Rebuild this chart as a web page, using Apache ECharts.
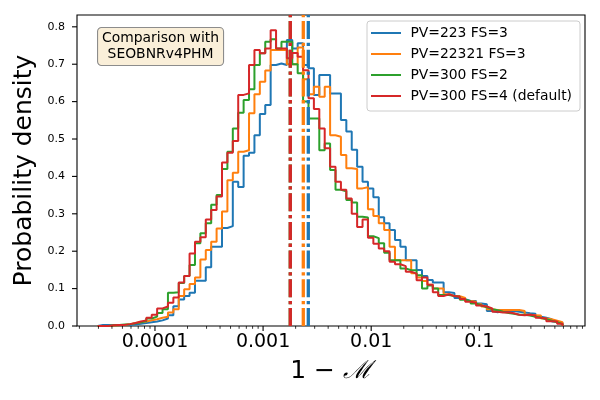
<!DOCTYPE html>
<html>
<head>
<meta charset="utf-8">
<script src="https://cdn.jsdelivr.net/npm/echarts@6/dist/echarts.min.js"></script>
<style>
html, body { margin: 0; background: #fff; }
#chart { width: 600px; height: 400px; }
</style>
</head>
<body>
<div id="chart"></div>
<script>
// series names / colours (matplotlib tab10)
var names = ['PV=223 FS=3', 'PV=22321 FS=3', 'PV=300 FS=2', 'PV=300 FS=4 (default)'];
var colors = ['#1f77b4', '#ff7f0e', '#2ca02c', '#d62728'];

// histogram bins are uniform in log10(1-M): edge k = binStart + k*binWidth
var binStart = -4.53;
var binWidth = 0.05;

// probability density per bin
var pv223 = [0.003, 0.003, 0.002, 0.002, 0.003, 0.003, 0.004, 0.006, 0.008, 0.01,
    0.012, 0.015, 0.02, 0.029, 0.053, 0.071, 0.08, 0.089, 0.121, 0.121,
    0.157, 0.212, 0.212, 0.262, 0.267, 0.386, 0.372, 0.455, 0.463, 0.51,
    0.567, 0.591, 0.698, 0.702, 0.698, 0.765, 0.742, 0.756, 0.698, 0.689,
    0.618, 0.671, 0.671, 0.622, 0.622, 0.551, 0.52, 0.471, 0.426, 0.386,
    0.368, 0.344, 0.291, 0.275, 0.257, 0.23, 0.212, 0.176, 0.176, 0.15,
    0.134, 0.123, 0.116, 0.116, 0.09, 0.088, 0.075, 0.072, 0.067, 0.067,
    0.06, 0.058, 0.04, 0.037, 0.04, 0.04, 0.04, 0.038, 0.036, 0.034,
    0.033, 0.025, 0.022, 0.018, 0.012, 0.008];
var pv22321 = [0, 0, 0.001, 0.002, 0.003, 0.005, 0.008, 0.01, 0.012, 0.015,
    0.018, 0.022, 0.025, 0.036, 0.045, 0.08, 0.098, 0.112, 0.13, 0.178,
    0.203, 0.225, 0.261, 0.306, 0.39, 0.41, 0.466, 0.47, 0.569, 0.62,
    0.653, 0.683, 0.738, 0.738, 0.738, 0.70, 0.70, 0.745, 0.66, 0.62,
    0.64, 0.613, 0.64, 0.51, 0.506, 0.457, 0.422, 0.42, 0.368, 0.371,
    0.312, 0.294, 0.275, 0.257, 0.212, 0.176, 0.176, 0.176, 0.141, 0.13,
    0.12, 0.11, 0.1, 0.1, 0.085, 0.08, 0.08, 0.075, 0.067, 0.065,
    0.058, 0.052, 0.045, 0.043, 0.043, 0.043, 0.043, 0.043, 0.04, 0.03,
    0.029, 0.028, 0.02, 0.018, 0.014, 0.01];
var fs2 = [0, 0, 0.002, 0.003, 0.004, 0.005, 0.007, 0.01, 0.013, 0.02,
    0.025, 0.035, 0.045, 0.089, 0.09, 0.115, 0.134, 0.163, 0.221, 0.248,
    0.275, 0.324, 0.35, 0.42, 0.466, 0.528, 0.57, 0.604, 0.633, 0.698,
    0.729, 0.76, 0.767, 0.742, 0.76, 0.76, 0.70, 0.676, 0.60, 0.555,
    0.555, 0.47, 0.488, 0.417, 0.364, 0.36, 0.337, 0.33, 0.292, 0.29,
    0.24, 0.235, 0.221, 0.196, 0.176, 0.176, 0.154, 0.149, 0.149, 0.136,
    0.1, 0.108, 0.1, 0.083, 0.083, 0.08, 0.078, 0.07, 0.066, 0.06,
    0.055, 0.05, 0.045, 0.042, 0.038, 0.035, 0.033, 0.03, 0.03, 0.028,
    0.025, 0.022, 0.018, 0.014, 0.01, 0.005];
var fs4 = [0, 0, 0.002, 0.003, 0.003, 0.005, 0.008, 0.012, 0.015, 0.022,
    0.03, 0.047, 0.052, 0.062, 0.076, 0.116, 0.134, 0.194, 0.225, 0.237,
    0.285, 0.31, 0.346, 0.437, 0.463, 0.495, 0.618, 0.622, 0.698, 0.738,
    0.729, 0.742, 0.791, 0.742, 0.742, 0.716, 0.73, 0.72, 0.684, 0.609,
    0.58, 0.528, 0.475, 0.426, 0.386, 0.364, 0.341, 0.30, 0.265, 0.285,
    0.236, 0.22, 0.207, 0.2, 0.172, 0.165, 0.16, 0.145, 0.14, 0.122,
    0.13, 0.11, 0.09, 0.08, 0.085, 0.08, 0.078, 0.072, 0.065, 0.062,
    0.055, 0.052, 0.047, 0.038, 0.036, 0.037, 0.034, 0.03, 0.029, 0.03,
    0.028, 0.022, 0.02, 0.013, 0.012, 0.006];
var hists = [pv223, pv22321, fs2, fs4];

// medians drawn as dash-dot vertical lines
var medians = [2.62e-3, 2.355e-3, 1.785e-3, 1.785e-3];

// axes
var xMin = 1.9e-5, xMax = 0.95;
var yMax = 0.8316;
var majorTicks = [1e-4, 1e-3, 1e-2, 1e-1];
var minorTicks = [2e-5, 3e-5, 4e-5, 5e-5, 6e-5, 7e-5, 8e-5, 9e-5,
    2e-4, 3e-4, 4e-4, 5e-4, 6e-4, 7e-4, 8e-4, 9e-4,
    2e-3, 3e-3, 4e-3, 5e-3, 6e-3, 7e-3, 8e-3, 9e-3,
    2e-2, 3e-2, 4e-2, 5e-2, 6e-2, 7e-2, 8e-2, 9e-2,
    0.2, 0.3, 0.4, 0.5, 0.6, 0.7, 0.8, 0.9];
var yTicks = [0, 0.1, 0.2, 0.3, 0.4, 0.5, 0.6, 0.7, 0.8];

var FONT = 'DejaVu Sans';

//把直方图高度变成阶梯折线的点
function stepPoints(h) {
    var pts = [[Math.pow(10, binStart), 0]];
    for (var k = 0; k < h.length; k++) {
        var a = Math.pow(10, binStart + k * binWidth);
        var b = Math.pow(10, binStart + (k + 1) * binWidth);
        pts.push([a, h[k]]);
        pts.push([b, h[k]]);
    }
    pts.push([Math.pow(10, binStart + h.length * binWidth), 0]);
    return pts;
}

var series = [];
hists.forEach(function (h, i) {
    series.push({
        name: names[i],
        type: 'line',
        data: stepPoints(h),
        symbol: 'none',
        lineStyle: {color: colors[i], width: 2},
        itemStyle: {color: colors[i]},
        z: 2 + i
    });
});
// 中位数竖线（从底到顶）
medians.forEach(function (m, i) {
    series.push({
        name: 'median ' + i,
        type: 'line',
        data: [[m, 0], [m, yMax]],
        symbol: 'none',
        silent: true,
        z: 10 + i,
        lineStyle: {color: colors[i], width: 3.3, type: [18, 3.7, 3.3, 3.7], cap: 'butt'}
    });
});

// tick marks (matplotlib style, outward)
var xTickData = majorTicks.map(function (v) { return [v, 0, 5, 1.1]; })
    .concat(minorTicks.map(function (v) { return [v, 0, 2.8, 0.8]; }));
var yTickData = yTicks.map(function (v) { return [xMin, v, 5, 1.1]; });
series.push({
    type: 'custom',
    silent: true,
    clip: false,
    z: 20,
    data: xTickData,
    renderItem: function (params, api) {
        var p = api.coord([api.value(0), 0]);
        return {
            type: 'line',
            shape: {x1: p[0], y1: p[1], x2: p[0], y2: p[1] + api.value(2)},
            style: {stroke: '#000', lineWidth: api.value(3)}
        };
    }
});
series.push({
    type: 'custom',
    silent: true,
    clip: false,
    z: 20,
    data: yTickData,
    renderItem: function (params, api) {
        var p = api.coord([xMin, api.value(1)]);
        return {
            type: 'line',
            shape: {x1: p[0], y1: p[1], x2: p[0] - api.value(2), y2: p[1]},
            style: {stroke: '#000', lineWidth: api.value(3)}
        };
    }
});

var myChart = echarts.init(document.getElementById('chart'));
myChart.setOption({
    animation: false,
    backgroundColor: '#fff',
    textStyle: {fontFamily: FONT},
    grid: {left: 77, right: 15, top: 15, bottom: 74, show: true, borderColor: '#000', borderWidth: 1.1},
    legend: {
        data: names,
        orient: 'vertical',
        left: 367,
        top: 21,
        padding: [4, 8, 7, 4],
        itemGap: 5,
        itemWidth: 30,
        itemHeight: 2,
        icon: 'rect',
        backgroundColor: 'rgba(255,255,255,0.8)',
        borderColor: '#cccccc',
        borderWidth: 1,
        borderRadius: 3,
        formatter: function (name) { return ' ' + name; },
        textStyle: {fontSize: 13.9, color: '#000', fontFamily: FONT, lineHeight: 16}
    },
    xAxis: {
        type: 'log',
        logBase: 10,
        min: xMin,
        max: xMax,
        name: '{n|1 − }{m|ℳ}',
        nameLocation: 'middle',
        nameGap: 33,
        nameTextStyle: {
            rich: {
                n: {fontSize: 25, fontFamily: FONT, color: '#000'},
                m: {fontSize: 25, fontFamily: 'DejaVu Serif', fontStyle: 'italic', color: '#000'}
            }
        },
        splitLine: {show: false},
        axisLine: {show: false},
        axisTick: {show: false},
        minorTick: {show: false},
        axisLabel: {
            showMinLabel: false,
            showMaxLabel: false,
            margin: 7,
            fontSize: 19,
            color: '#000',
            fontFamily: FONT,
            formatter: function (v) {
                var e = Math.log10(v);
                if (Math.abs(e - Math.round(e)) > 1e-6) return '';
                return String(Math.pow(10, Math.round(e)));
            }
        }
    },
    yAxis: {
        type: 'value',
        min: 0,
        max: yMax,
        interval: 0.1,
        name: 'Probability density',
        nameLocation: 'middle',
        nameRotate: 90,
        nameGap: 40,
        nameTextStyle: {fontSize: 25, color: '#000', fontFamily: FONT},
        splitLine: {show: false},
        axisLine: {show: false},
        axisTick: {show: false},
        axisLabel: {
            showMaxLabel: false,
            margin: 12,
            fontSize: 11,
            color: '#000',
            fontFamily: FONT,
            formatter: function (v) { return v.toFixed(1); }
        }
    },
    graphic: [{
        type: 'group',
        left: 97,
        top: 27,
        children: [{
            type: 'rect',
            shape: {x: 0, y: 0, width: 126, height: 38, r: 4},
            style: {fill: '#faefd9', stroke: '#8c8c8c', lineWidth: 1.1}
        }, {
            type: 'text',
            x: 63,
            y: 19,
            style: {
                text: 'Comparison with\nSEOBNRv4PHM',
                fontSize: 13.9,
                fontFamily: FONT,
                fill: '#000',
                align: 'center',
                verticalAlign: 'middle',
                lineHeight: 16
            }
        }]
    }],
    series: series
});
</script>
</body>
</html>
